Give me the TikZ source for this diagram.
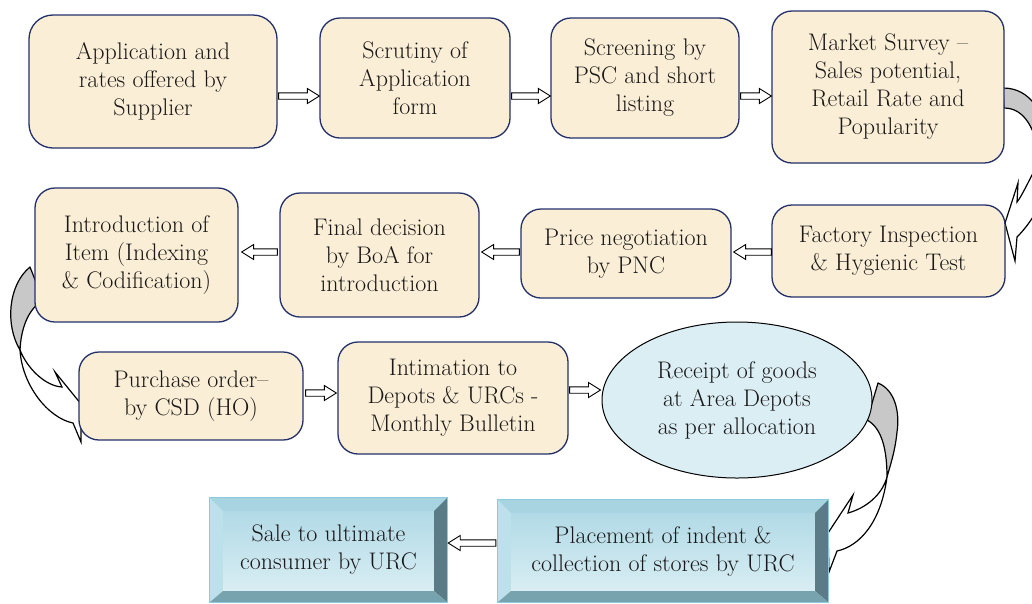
\documentclass[tikz,border=0pt]{standalone}
\usetikzlibrary{calc,shapes.geometric}
\definecolor{cream}{HTML}{FAEFD6}
\definecolor{navy}{HTML}{23306A}
\definecolor{txt}{HTML}{1A1718}
\definecolor{ellfill}{HTML}{DAEEF3}
\definecolor{bvtop}{HTML}{A7D4E0}
\definecolor{bvleft}{HTML}{BDE1EA}
\definecolor{bvright}{HTML}{5B7C87}
\definecolor{bvbottom}{HTML}{77A3AE}
\definecolor{bvedge}{HTML}{8CCBDB}
\definecolor{bvinA}{HTML}{ABD7E4}
\definecolor{bvinB}{HTML}{DEF0F5}
\definecolor{curvegray}{HTML}{C8C8C8}
\newcommand\bevelframe[1]{%
  \fill[bvtop] (#1.north west) -- (#1.north east) -- ([xshift=-13pt,yshift=-13pt]#1.north east) -- ([xshift=13pt,yshift=-13pt]#1.north west) -- cycle;
  \fill[bvleft] (#1.north west) -- ([xshift=13pt,yshift=-13pt]#1.north west) -- ([xshift=13pt,yshift=11pt]#1.south west) -- (#1.south west) -- cycle;
  \fill[bvright] (#1.north east) -- (#1.south east) -- ([xshift=-13pt,yshift=11pt]#1.south east) -- ([xshift=-13pt,yshift=-13pt]#1.north east) -- cycle;
  \fill[bvbottom] (#1.south west) -- (#1.south east) -- ([xshift=-13pt,yshift=11pt]#1.south east) -- ([xshift=13pt,yshift=11pt]#1.south west) -- cycle;
  \draw[bvedge, line width=1pt] (#1.north west) rectangle (#1.south east);
}
\tikzset{
  boxfont/.style={font=\fontsize{24}{28}\selectfont, text=txt, align=center, inner sep=0pt},
  rbox/.style={boxfont, draw=navy, line width=1.3pt, fill=cream, rounded corners=20pt},
  bevelbox/.style={boxfont, top color=bvinA, bottom color=bvinB, draw=none},
  ellbox/.style={boxfont, ellipse, draw=black, line width=1pt, fill=ellfill},
  curveback/.style={draw=black, fill=curvegray, line width=1.2pt, line join=round},
  curvefront/.style={draw=black, fill=white, line width=1.2pt, line join=miter},
  blockarrow/.style={draw=black, fill=white, line width=0.9pt, line join=miter,
    to path={let \p1=(\tikztostart), \p2=(\tikztotarget), \n1={(\x2>\x1)*2-1} in
      ({\x1},{\y1+3.2pt}) -- ({\x2-\n1*12pt},{\y1+3.2pt}) -- ({\x2-\n1*12pt},{\y1+7.5pt})
      -- (\x2,\y1) -- ({\x2-\n1*12pt},{\y1-7.5pt}) -- ({\x2-\n1*12pt},{\y1-3.2pt})
      -- ({\x1},{\y1-3.2pt}) -- cycle}}
}
\begin{document}
\begin{tikzpicture}[x=1pt,y=-1pt]
\useasboundingbox (0,0) rectangle (1032,603);
\clip (0,0) rectangle (1032,603);
\fill[white] (0,0) rectangle (1032,603);

% curved arrows (drawn beneath the boxes)
\draw[curveback] (1003,88) .. controls (1030,88) and (1046,112) .. (1048,150) -- (1040,160) .. controls (1036,130) and (1025,108) .. (1004,108) -- cycle;
\draw[curvefront] (1040,160) .. controls (1030,178) and (1022,196) .. (1017,202) -- (1018,183) -- (1005,223) -- (1015,261) -- (1017,237) .. controls (1024,230) and (1032,220) .. (1040,205) -- cycle;

\draw[curveback] (30,267) .. controls (8,285) and (5,325) .. (20,350) .. controls (21,330) and (27,310) .. (43,300) -- cycle;
\draw[curvefront] (20,350) .. controls (27,368) and (45,386) .. (62,387) -- (55,372) -- (81,404) -- (81,442) -- (73,423) .. controls (48,418) and (22,385) .. (20,350) -- cycle;

\draw[curveback] (878,383) .. controls (895,390) and (900,412) .. (897,432) .. controls (895,452) and (890,466) .. (887,477) .. controls (887,450) and (882,428) .. (867,420) -- cycle;
\draw[curvefront] (887,477) .. controls (882,495) and (866,508) .. (848,513) -- (853,495) -- (828,533) -- (829,572) -- (837,551) .. controls (860,546) and (881,522) .. (887,477) -- cycle;

% row 1
\node[rbox, minimum width=248pt, minimum height=133pt, rounded corners=24pt] (A) at (153,81.5) {Application and\\rates offered by\\Supplier};
\node[rbox, minimum width=190pt, minimum height=120pt] (B) at (415,78) {Scrutiny of\\Application\\form};
\node[rbox, minimum width=188pt, minimum height=120pt] (C) at (645,78) {Screening by\\PSC and short\\listing};
\node[rbox, minimum width=232pt, minimum height=152pt] (D) at (888,87) {Market Survey --\\Sales potential,\\Retail Rate and\\Popularity};
% row 2
\node[rbox, minimum width=233pt, minimum height=92pt] (F) at (888.5,251) {Factory Inspection\\\& Hygienic Test};
\node[rbox, minimum width=210pt, minimum height=89pt] (P) at (626,253.5) {Price negotiation\\by PNC};
\node[rbox, minimum width=199pt, minimum height=124pt] (G) at (379.5,255) {Final decision\\by BoA for\\introduction};
\node[rbox, minimum width=203pt, minimum height=134pt] (I) at (136.5,255) {Introduction of\\Item (Indexing\\\& Codification)};
% row 3
\node[rbox, minimum width=224pt, minimum height=88pt] (O) at (191,396) {Purchase order--\\by CSD (HO)};
\node[rbox, minimum width=230pt, minimum height=112pt] (M) at (453,398) {Intimation to\\Depots \& URCs -\\Monthly Bulletin};
\node[ellbox, minimum width=270pt, minimum height=156pt] (E) at (737,400) {Receipt of goods\\at Area Depots\\as per allocation};
% row 4
\node[bevelbox, minimum width=330pt, minimum height=102pt] (L) at (663,551) {Placement of indent \&\\collection of stores by URC};
\bevelframe{L}
\node[bevelbox, minimum width=237pt, minimum height=104pt] (S) at (328.5,550) {Sale to ultimate\\consumer by URC};
\bevelframe{S}

% straight block arrows
\coordinate (r1) at (0,96);
\coordinate (r2) at (0,252);
\coordinate (r3) at (0,393);
\coordinate (r3b) at (0,390);
\coordinate (r4) at (0,543);
\draw[blockarrow] ([xshift=1pt]A.east |- r1) to (B.west |- r1);
\draw[blockarrow] ([xshift=1pt]B.east |- r1) to (C.west |- r1);
\draw[blockarrow] ([xshift=1pt]C.east |- r1) to (D.west |- r1);
\draw[blockarrow] (F.west |- r2) to ([xshift=2pt]P.east |- r2);
\draw[blockarrow] ([xshift=-1pt]P.west |- r2) to ([xshift=2pt]G.east |- r2);
\draw[blockarrow] ([xshift=-2pt]G.west |- r2) to ([xshift=3pt]I.east |- r2);
\draw[blockarrow] ([xshift=2pt]O.east |- r3) to ([xshift=-1pt]M.west |- r3);
\draw[blockarrow] ([xshift=1pt]M.east |- r3b) to ([xshift=-1pt]E.west |- r3b);
\draw[blockarrow] ([xshift=-2pt]L.west |- r4) to ([xshift=1pt]S.east |- r4);
\end{tikzpicture}
\end{document}
